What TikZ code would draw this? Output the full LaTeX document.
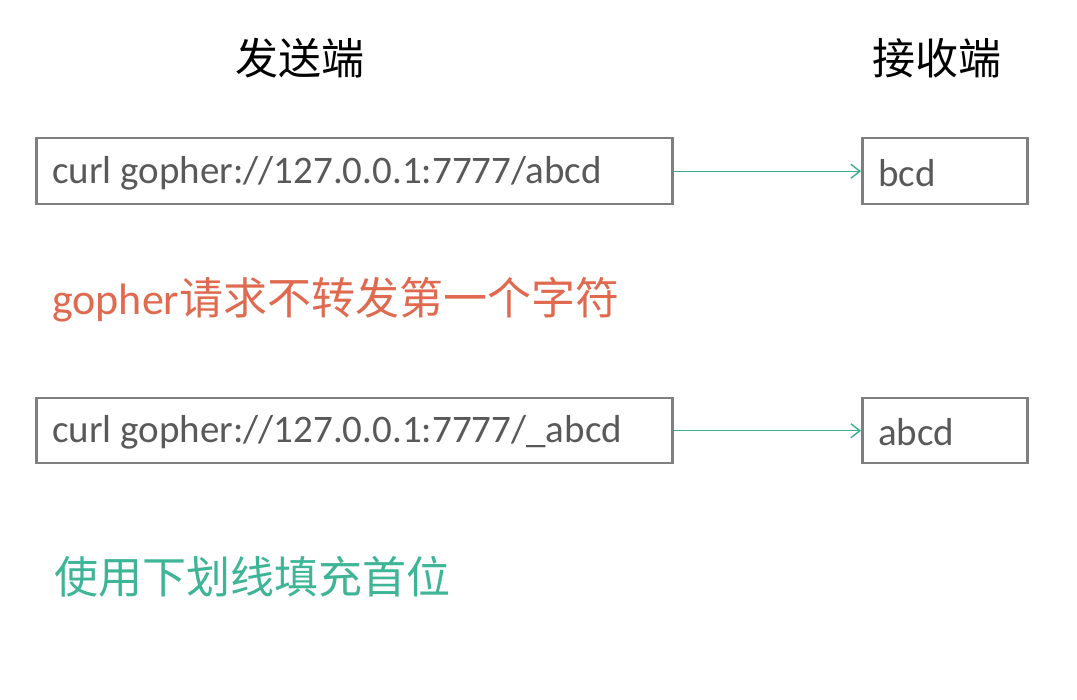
\documentclass[tikz,border=0pt]{standalone}
\usepackage{fontspec}
\setmainfont{Carlito}
\newfontfamily\cjk{Noto Sans CJK SC}
\usetikzlibrary{arrows.meta}
\definecolor{boxgray}{HTML}{7F7F7F}
\definecolor{txtgray}{HTML}{595959}
\definecolor{myred}{HTML}{E06A50}
\definecolor{mygreen}{HTML}{3DB596}
\definecolor{arr}{HTML}{3AAE8F}
\begin{document}
\begin{tikzpicture}[x=1pt,y=-1pt,
  box/.style={draw=boxgray,line width=2.5pt,inner sep=0pt,anchor=north west},
  btxt/.style={anchor=west,text=txtgray,inner sep=0pt,font=\fontsize{39}{44}\selectfont},
  conn/.style={draw=arr,line width=1.4pt,-{Straight Barb[length=9pt,width=14pt]}},
  title/.style={font=\cjk\fontsize{43}{48}\selectfont,text=black}]
\useasboundingbox (0,0) rectangle (1077,700);
\fill[white] (0,0) rectangle (1077,700);
\node[title] (t1) at (300,58) {发送端};
\node[title] (t2) at (937,58) {接收端};
\node[box,minimum width=636pt,minimum height=66pt] (b1) at (35,137) {};
\node[btxt] (l1) at (52,173) {curl gopher://127.0.0.1:7777/abcd};
\node[box,minimum width=165pt,minimum height=66pt] (b2) at (861,137) {};
\node[btxt] (l2) at (878,173) {bcd};
\draw[conn] (b1.east) -- (b2.west);
\node[anchor=west,inner sep=0pt,text=myred,font=\fontsize{44}{48}\selectfont] (r) at (52,300) {gopher{\cjk 请求不转发第一个字符}};
\node[box,minimum width=636pt,minimum height=65pt] (b3) at (35,397) {};
\node[btxt] (l3) at (52,432) {curl gopher://127.0.0.1:7777/\_abcd};
\node[box,minimum width=165pt,minimum height=65pt] (b4) at (861,397) {};
\node[btxt] (l4) at (878,432) {abcd};
\draw[conn] (b3.east) -- (b4.west);
\node[anchor=west,inner sep=0pt,text=mygreen,font=\cjk\fontsize{44}{48}\selectfont] (g) at (54,577) {使用下划线填充首位};
\end{tikzpicture}
\end{document}
